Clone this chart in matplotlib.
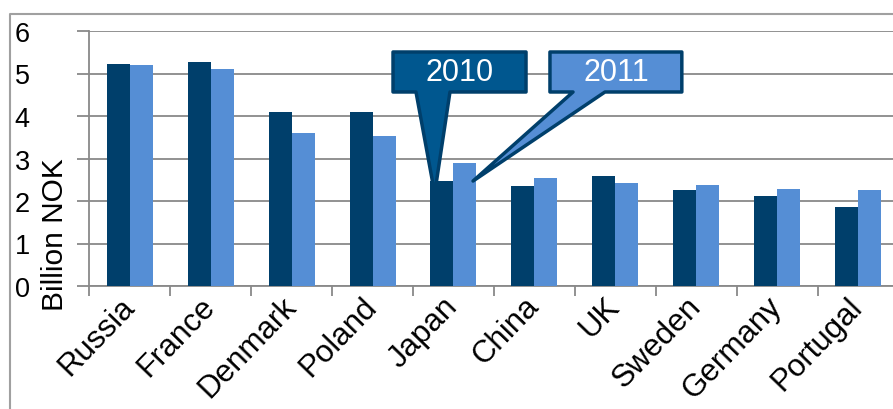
import matplotlib.pyplot as plt
from matplotlib.patches import Polygon
from matplotlib.lines import Line2D
import numpy as np

plt.rcParams['font.family'] = ['Liberation Sans', 'DejaVu Sans']

countries = ["Russia", "France", "Denmark", "Poland", "Japan",
             "China", "UK", "Sweden", "Germany", "Portugal"]
values_2010 = [5.22, 5.27, 4.10, 4.10, 2.48, 2.35, 2.58, 2.27, 2.12, 1.87]
values_2011 = [5.19, 5.11, 3.61, 3.53, 2.89, 2.54, 2.42, 2.38, 2.29, 2.27]
series_names = ["2010", "2011"]

dark = "#003F6B"
mid = "#00578F"
light = "#558ED5"
grid_col = "#898989"

fig = plt.figure(figsize=(8.93, 4.10), dpi=100)
ax = fig.add_axes([89.4 / 893, 123 / 410, 809 / 893, 255 / 410])

x = np.arange(len(countries))
w = 0.284
ax.bar(x - w / 2, values_2010, w, color=dark, zorder=3)
ax.bar(x + w / 2, values_2011, w, color=light, zorder=3)

ax.set_xlim(-0.5, len(countries) - 0.5)
ax.set_ylim(0, 6)
ax.set_yticks(range(7))
ax.yaxis.grid(True, color=grid_col, linewidth=1.3, zorder=0)
ax.set_axisbelow(True)

for s in ["top", "right"]:
    ax.spines[s].set_visible(False)
for s in ["left", "bottom"]:
    ax.spines[s].set_color(grid_col)
    ax.spines[s].set_linewidth(1.3)

# ticks between categories, labels at centres
ax.set_xticks(np.arange(-0.5, len(countries) - 0.5, 1.0))
ax.set_xticklabels([])
ax.tick_params(axis="x", which="major", length=7, width=1.3, color=grid_col)
ax.set_xticks(x, minor=True)
ax.set_xticklabels(countries, minor=True, rotation=46, ha="right", va="center",
                   rotation_mode="anchor", fontsize=22.5)
ax.tick_params(axis="x", which="minor", length=0, pad=11)
ax.tick_params(axis="y", length=9, width=1.3, color=grid_col,
               labelsize=19.5, pad=34)

ax.set_ylabel("Billion NOK", fontsize=21.5)
ax.yaxis.set_label_coords(-0.025, 0.205)

# callout legend pointing at the Japan bars
j = countries.index("Japan")
boxes = [
    (3.253, 4.897, 3.537, 3.957, (j - w / 2 - 0.09, values_2010[j] - 0.3), mid),
    (5.193, 6.823, 5.478, 5.873, (j + w / 2 + 0.1, values_2011[j] - 0.42), light),
]
y0, y1 = 4.565, 5.506
for name, (bx0, bx1, px0, px1, tip, fc) in zip(series_names, boxes):
    pts = [(bx0, y1), (bx1, y1), (bx1, y0), (px1, y0), tip, (px0, y0), (bx0, y0)]
    ax.add_patch(Polygon(pts, closed=True, facecolor=fc, edgecolor=dark,
                         linewidth=2.5, joinstyle="round", zorder=5, clip_on=False))
    ax.text((bx0 + bx1) / 2, (y0 + y1) / 2, name, color="white", fontsize=22,
            ha="center", va="center", zorder=6)

# outer chart frame
fig.add_artist(Line2D([10 / 893, 10 / 893, 1.0], [0, 395 / 410, 395 / 410],
                      transform=fig.transFigure, color="#A0A0A0", linewidth=1.5))

fig.savefig("out.png", dpi=100)
